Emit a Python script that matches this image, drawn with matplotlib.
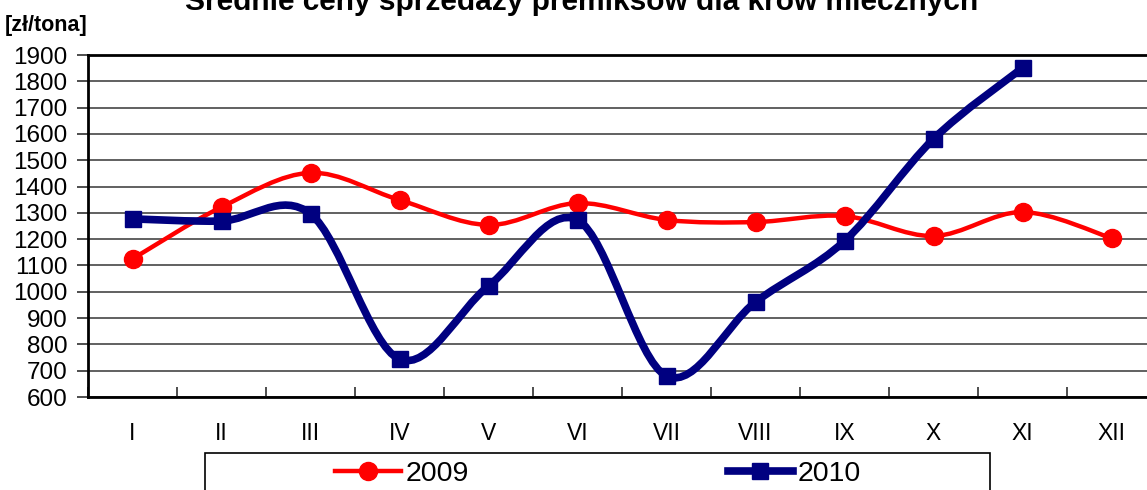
import numpy as np
import matplotlib.pyplot as plt
from matplotlib.path import Path
from matplotlib.patches import PathPatch, Rectangle
from matplotlib.lines import Line2D

plt.rcParams['font.family'] = ['Liberation Sans', 'DejaVu Sans']

# Dane: średnie ceny [zł/tona]
miesiace = ['I', 'II', 'III', 'IV', 'V', 'VI', 'VII', 'VIII', 'IX', 'X', 'XI', 'XII']
ceny_2009 = [1125, 1322, 1452, 1349, 1254, 1337, 1273, 1265, 1288, 1212, 1303, 1204]
ceny_2010 = [1277, 1269, 1296, 744, 1022, 1273, 680, 961, 1193, 1581, 1851]

kolor_2009 = '#FF0000'
kolor_2010 = '#000080'


# Wygładzona linia jak w Excelu (krzywe Beziera Catmulla-Roma)
def smooth_path(y):
    x = np.arange(len(y), dtype=float)
    p = np.column_stack([x, np.asarray(y, dtype=float)])
    verts = [p[0]]
    codes = [Path.MOVETO]
    n = len(p)
    for i in range(n - 1):
        p0 = p[i - 1] if i > 0 else p[i]
        p3 = p[i + 2] if i + 2 < n else p[i + 1]
        c1 = p[i] + (p[i + 1] - p0) / 6.0
        c2 = p[i + 1] - (p3 - p[i]) / 6.0
        verts += [c1, c2, p[i + 1]]
        codes += [Path.CURVE4] * 3
    return Path(verts, codes)


fig = plt.figure(figsize=(11.47, 4.90), dpi=100)
ax = fig.add_axes([88 / 1147, 93 / 490, 1068 / 1147, 342 / 490])

ax.set_xlim(-0.5, 11.5)
ax.set_ylim(600, 1900)

ax.set_yticks(np.arange(600, 2000, 100))
ax.yaxis.grid(True, color='#606060', lw=1.4)
ax.set_axisbelow(True)

ax.add_patch(PathPatch(smooth_path(ceny_2009), fill=False, ec=kolor_2009, lw=3.2,
                       capstyle='round', zorder=3))
ax.plot(range(len(ceny_2009)), ceny_2009, 'o', color=kolor_2009, ms=13, zorder=4)

ax.add_patch(PathPatch(smooth_path(ceny_2010), fill=False, ec=kolor_2010, lw=5.5,
                       capstyle='round', zorder=5))
ax.plot(range(len(ceny_2010)), ceny_2010, 's', color=kolor_2010, ms=12, zorder=6)

ax.set_xticks(range(12))
ax.set_xticklabels(miesiace, fontsize=16.5)
ax.set_xticks(np.arange(-0.5, 12, 1), minor=True)
ax.tick_params(axis='x', which='major', length=0, pad=18)
ax.tick_params(axis='x', which='minor', direction='in', length=7, width=1.3, color='#404040')
ax.tick_params(axis='y', which='major', direction='out', length=8, width=1.3,
               color='#404040', labelsize=17.5, pad=7)

for s in ['left', 'bottom', 'top', 'right']:
    ax.spines[s].set_linewidth(2)
    ax.spines[s].set_color('black')

fig.text(0.507, 1 - 10 / 490, 'Średnie ceny sprzedaży premiksów dla krów mlecznych',
         ha='center', va='baseline', fontsize=21.5, fontweight='bold')
fig.text(5 / 1147, 1 - 26 / 490, '[zł/tona]', ha='left', va='center',
         fontsize=15.5, fontweight='bold')

# Legenda
fig.patches.append(Rectangle((205 / 1147, -0.05), 785 / 1147, 0.05 + 37 / 490,
                             transform=fig.transFigure, fill=False, ec='black', lw=1.2))
uchwyty = [Line2D([], [], color=kolor_2009, lw=3.2, marker='o', ms=13),
           Line2D([], [], color=kolor_2010, lw=5.5, marker='s', ms=12)]
fig.legend(uchwyty, ['2009', '2010'], loc='center', ncol=2,
           bbox_to_anchor=(598 / 1147, 1 - 474 / 490), frameon=False,
           fontsize=20.5, handlelength=2.3, handletextpad=0.15, columnspacing=9.1)

fig.savefig('out.png', dpi=100)
